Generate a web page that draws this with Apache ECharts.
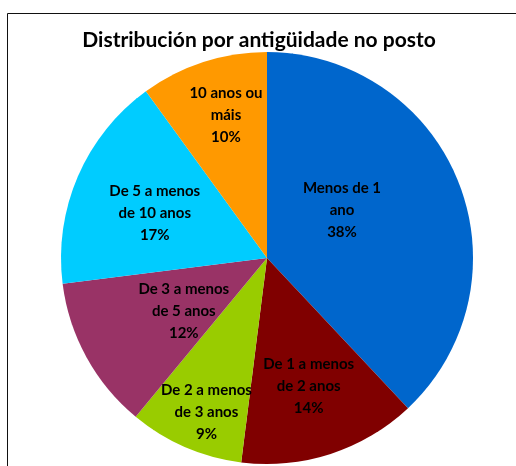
<!DOCTYPE html>
<html>
<head>
<meta charset="utf-8">
<script src="https://cdn.jsdelivr.net/npm/echarts@6/dist/echarts.min.js"></script>
<style>
  html, body { margin: 0; padding: 0; background: #fff; }
  #chart { width: 516px; height: 466px; }
</style>
</head>
<body>
<div id="chart"></div>
<script>
  // datos
  const categories = ['Menos de 1\nano', 'De 1 a menos\nde 2 anos', 'De 2 a menos\nde 3 anos',
    'De 3 a menos\nde 5 anos', 'De 5 a menos\nde 10 anos', '10 anos ou\nmáis'];
  const values = [38, 14, 9, 12, 17, 10];
  const colors = ['#0066CC', '#800000', '#99CC00', '#993366', '#00CCFF', '#FF9900'];

  // posicion das etiquetas (radio e desprazamento angular, como fai Excel)
  const labelR = [89, 135, 166, 99, 121, 149];
  const labelShift = [-11, 0, -2, -4, -1.5, 2];

  const cx = 267, cy = 258, R = 206;
  const total = values.reduce((a, b) => a + b, 0);

  const myChart = echarts.init(document.getElementById('chart'));

  const option = {
    animation: false,
    title: {
      text: 'Distribución por antigüidade no posto',
      left: 254,
      top: 25,
      textAlign: 'center',
      textStyle: { fontFamily: 'Lato', fontWeight: 'bold', fontSize: 21, color: '#000' }
    },
    graphic: [{
      type: 'rect',
      shape: { x: 7.5, y: 13.5, width: 540, height: 480 },
      style: { fill: 'none', stroke: '#111', lineWidth: 1 },
      silent: true
    }],
    series: [{
      type: 'pie',
      center: [cx, cy],
      radius: R,
      startAngle: 90,
      clockwise: true,
      itemStyle: { borderWidth: 0 },
      emphasis: { disabled: true },
      label: {
        position: 'inside',
        formatter: p => p.name + '\n' + Math.round(p.percent) + '%',
        fontFamily: 'Lato',
        fontWeight: 'bold',
        fontSize: 15,
        lineHeight: 22,
        color: '#000',
        align: 'center'
      },
      labelLayout: function (params) {
        const i = params.dataIndex;
        let cum = 0;
        for (let k = 0; k < i; k++) cum += values[k];
        const ang = ((cum + values[i] / 2) / total * 360 + labelShift[i]) * Math.PI / 180;
        return {
          x: cx + labelR[i] * Math.sin(ang),
          y: cy - labelR[i] * Math.cos(ang),
          align: 'center',
          verticalAlign: 'middle'
        };
      },
      data: categories.map((c, i) => ({ name: c, value: values[i], itemStyle: { color: colors[i] } }))
    }]
  };

  myChart.setOption(option);
</script>
</body>
</html>
